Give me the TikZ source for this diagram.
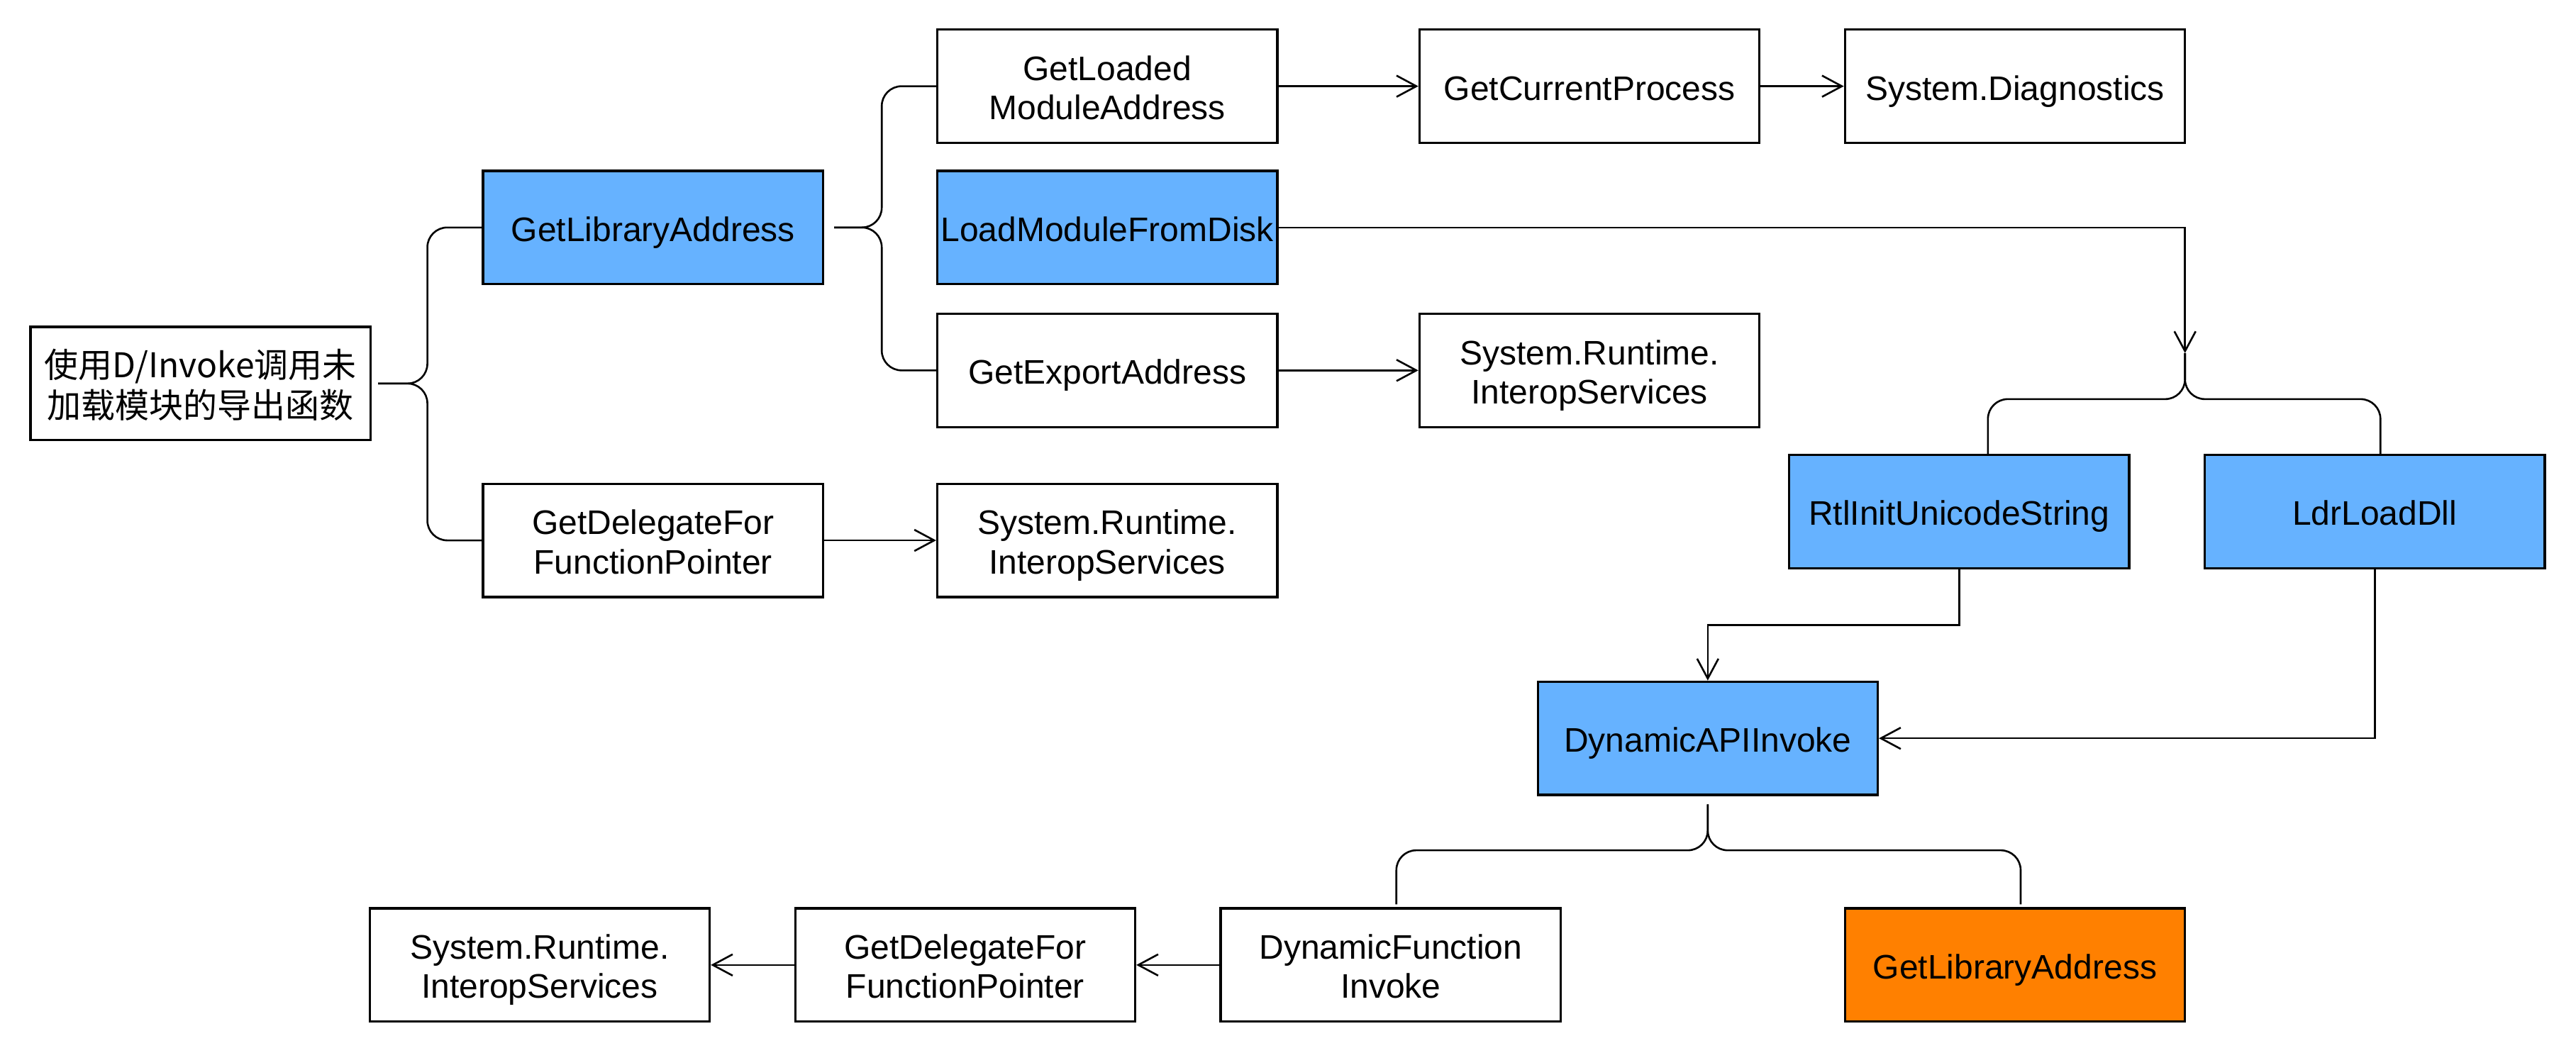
\documentclass[tikz,border=0pt]{standalone}
\usepackage{fontspec}
\setmainfont{Liberation Sans}
\newfontfamily\cjk{Noto Sans CJK SC}
\usetikzlibrary{arrows.meta}
\definecolor{bluefill}{HTML}{66B2FF}
\definecolor{orangefill}{HTML}{FF8000}
\newcommand\boxtext[1]{\raisebox{-4.2pt}[\height][\depth]{\begin{tabular}{@{}c@{}}#1\end{tabular}}}
\begin{document}
\begin{tikzpicture}[x=1.1582pt,y=-1.1582pt,
  box/.style={draw,line width=1.6pt,minimum width=239.7pt,minimum height=79.9pt,inner sep=0pt,font=\fontsize{24}{27.6}\selectfont},
  bluebox/.style={box,fill=bluefill},
  orangebox/.style={box,fill=orangefill},
  conn/.style={line width=1.3pt,rounded corners=14pt},
  arr/.style={line width=1.3pt,-{Straight Barb[length=14pt,width=15pt,line width=1.3pt]}}
]
\useasboundingbox (0,0) rectangle (1568,641);
\fill[white] (0,0) rectangle (1568,641);

\node[box,font=\cjk\fontsize{24}{28.5}\selectfont] (root) at (122,233.5) {\boxtext{使用D/Invoke调用未\\加载模块的导出函数}};
\node[bluebox] (gla) at (397.5,138.5) {\boxtext{GetLibraryAddress}};
\node[box] (gdf) at (397.5,329) {\boxtext{GetDelegateFor\\FunctionPointer}};
\node[box] (glm) at (674,52.5) {\boxtext{GetLoaded\\ModuleAddress}};
\node[bluebox] (lmd) at (674,138.5) {\boxtext{LoadModuleFromDisk}};
\node[box] (gea) at (674,225.5) {\boxtext{GetExportAddress}};
\node[box] (sri1) at (674,329) {\boxtext{System.Runtime.\\InteropServices}};
\node[box] (gcp) at (967.5,52.5) {\boxtext{GetCurrentProcess}};
\node[box] (sd) at (1226.5,52.5) {\boxtext{System.Diagnostics}};
\node[box] (sri2) at (967.5,225.5) {\boxtext{System.Runtime.\\InteropServices}};
\node[bluebox] (rtl) at (1192.5,311.5) {\boxtext{RtlInitUnicodeString}};
\node[bluebox] (ldr) at (1445.5,311.5) {\boxtext{LdrLoadDll}};
\node[bluebox] (dai) at (1039.5,449.5) {\boxtext{DynamicAPIInvoke}};
\node[box] (dfi) at (846.5,587.5) {\boxtext{DynamicFunction\\Invoke}};
\node[orangebox] (gla2) at (1226.5,587.5) {\boxtext{GetLibraryAddress}};
\node[box] (gdf2) at (587.5,587.5) {\boxtext{GetDelegateFor\\FunctionPointer}};
\node[box] (sri3) at (328.5,587.5) {\boxtext{System.Runtime.\\InteropServices}};

\coordinate (hub) at (1330,215);

% braces
\draw[conn] ([xshift=4.6pt]root.east) -- ++(30,0) |- (gla.west);
\draw[conn] ([xshift=4.6pt]root.east) -- ++(30,0) |- (gdf.west);
\draw[conn] ([xshift=7pt]gla.east) -- ++(29,0) |- (glm.west);
\draw[conn] ([xshift=7pt]gla.east) -- ++(29,0) |- (gea.west);
\draw[conn] (hub) -- ++(0,28) -| ([xshift=20.3pt]rtl.north);
\draw[conn] (hub) -- ++(0,28) -| ([xshift=4pt]ldr.north);
\draw[conn] ([yshift=-5.8pt]dai.south) -- ++(0,28) -| ([xshift=4pt,yshift=2pt]dfi.north);
\draw[conn] ([yshift=-5.8pt]dai.south) -- ++(0,28) -| ([xshift=4pt,yshift=2pt]gla2.north);

% arrows
\draw[arr] (glm.east) -- (gcp.west);
\draw[arr] (gcp.east) -- (sd.west);
\draw[arr] (gea.east) -- (sri2.west);
\draw[arr] (gdf.east) -- (sri1.west);
\draw[arr] (lmd.east) -| (hub);
\draw[arr] (rtl.south) -- ++(0,34) -| (dai.north);
\draw[arr] (ldr.south) |- (dai.east);
\draw[arr] (dfi.west) -- (gdf2.east);
\draw[arr] (gdf2.west) -- (sri3.east);
\end{tikzpicture}
\end{document}
